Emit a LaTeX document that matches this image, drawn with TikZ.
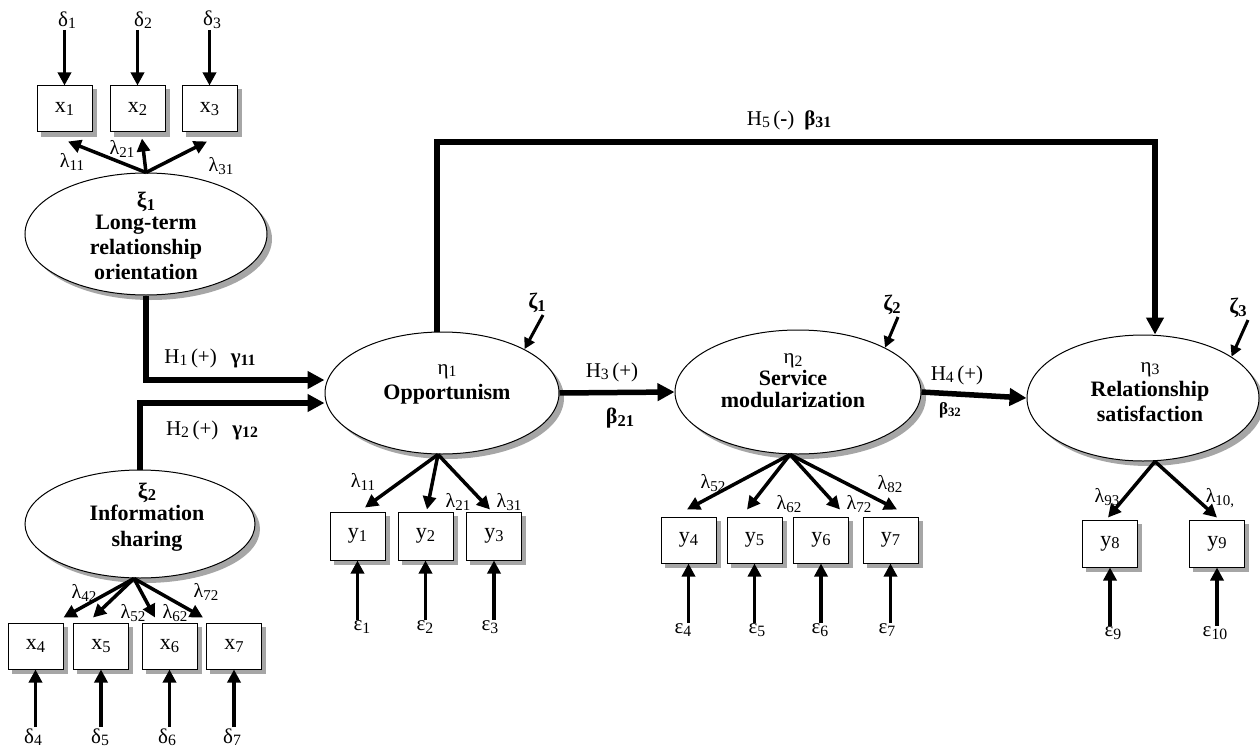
\documentclass[tikz,border=0pt]{standalone}
\usepackage{fontspec}
\usepackage{graphicx}
\setmainfont{Liberation Serif}
\usetikzlibrary{arrows.meta,shapes.geometric}
\pgfdeclarelayer{shadowlayer}
\pgfsetlayers{shadowlayer,main}
\newcommand{\lsub}[1]{\raisebox{-0.12em}{\scalebox{0.75}{#1}}}
\newcommand{\fsz}[1]{\fontsize{#1}{#1}\selectfont}
\begin{document}
\begin{tikzpicture}[x=1pt,y=-1pt,
 shadowc/.style={fill=black!35},
 obs/.style={draw,line width=1pt,fill=white,minimum width=55pt,minimum height=46pt,inner sep=0pt,font=\fsz{22}},
 lat/.style={ellipse,draw,line width=1pt,fill=white,inner sep=0pt},
 lattxt/.style={align=center,font=\fontsize{22}{26}\selectfont\bfseries,inner sep=0pt},
 errl/.style={font=\fsz{21},inner sep=1pt},
 lam/.style={font=\fsz{20},inner sep=0pt},
 hyp/.style={font=\fsz{21},inner sep=0pt},
 harr/.style={line width=5.5pt,-{Triangle[length=17pt,width=17pt]}},
 larr/.style={line width=3.5pt,-{Triangle[length=13pt,width=13pt]}},
 earr/.style={line width=3.5pt,-{Triangle[length=13pt,width=13pt]}},
 zarr/.style={line width=3pt,-{Triangle[length=11pt,width=11pt]}},
]
\useasboundingbox (0,0) rectangle (1260,749);

% ---------- latent variables
\node[lat,minimum width=242pt,minimum height=122pt] (xi1) at (146,234) {};
\node[lattxt] (xi1t) at (146,236) {ξ\lsub{1}\\[-4pt]Long-term\\[-1pt]relationship\\[-1pt]orientation};
\node[lat,minimum width=230pt,minimum height=108pt] (xi2) at (140,524) {};
\node[lattxt] (xi2t) at (147,517) {ξ\lsub{2}\\[-4pt]Information\\[0pt]sharing};
\node[lat,minimum width=234pt,minimum height=122pt] (eta1) at (442,393) {};
\node[lattxt] (eta1t) at (447,384) {{\mdseries\fsz{21}η\lsub{1}}\\[-1pt]Opportunism};
\node[lat,minimum width=246pt,minimum height=124pt] (eta2) at (798,392) {};
\node[lattxt] (eta2t) at (793,381) {{\mdseries\fsz{21}η\lsub{2}}\\[-4pt]Service\\[-4pt]modularization};
\node[lat,minimum width=232pt,minimum height=126pt] (eta3) at (1143,398) {};
\node[lattxt] (eta3t) at (1150,392) {{\mdseries\fsz{21}η\lsub{3}}\\[-2pt]Relationship\\[-1pt]satisfaction};

% ---------- observed variables
\node[obs] (x1) at (64.5,109) {x\lsub{1}};
\node[obs] (x2) at (137.5,109) {x\lsub{2}};
\node[obs] (x3) at (209.5,109) {x\lsub{3}};
\node[obs] (x4) at (35.5,646) {x\lsub{4}};
\node[obs] (x5) at (101,646) {x\lsub{5}};
\node[obs] (x6) at (169.5,646) {x\lsub{6}};
\node[obs] (x7) at (234,646) {x\lsub{7}};
\node[obs,minimum height=48pt] (y1) at (357.5,536) {y\lsub{1}};
\node[obs,minimum height=48pt] (y2) at (425.5,536) {y\lsub{2}};
\node[obs,minimum height=48pt] (y3) at (494,536) {y\lsub{3}};
\node[obs] (y4) at (688.5,540) {y\lsub{4}};
\node[obs] (y5) at (754.5,540) {y\lsub{5}};
\node[obs] (y6) at (821,540) {y\lsub{6}};
\node[obs] (y7) at (890.5,540) {y\lsub{7}};
\node[obs,minimum height=47pt] (y8) at (1110,543.5) {y\lsub{8}};
\node[obs,minimum height=47pt] (y9) at (1217,543.5) {y\lsub{9}};

% ---------- shadows
\begin{pgfonlayer}{shadowlayer}
\foreach \n in {x1,x2,x3,x4,x5,x6,x7,y1,y2,y3,y4,y5,y6,y7,y8,y9}
  \fill[shadowc] ([shift={(4pt,-4pt)}]\n.south west) rectangle ([shift={(4pt,-4pt)}]\n.north east);
\fill[shadowc] ([shift={(5pt,-5pt)}]xi1.center) ellipse [x radius=121, y radius=61];
\fill[shadowc] ([shift={(5pt,-5pt)}]xi2.center) ellipse [x radius=115, y radius=54];
\fill[shadowc] ([shift={(5pt,-5pt)}]eta1.center) ellipse [x radius=117, y radius=61];
\fill[shadowc] ([shift={(5pt,-5pt)}]eta2.center) ellipse [x radius=123, y radius=62];
\fill[shadowc] ([shift={(5pt,-5pt)}]eta3.center) ellipse [x radius=116, y radius=63];
\end{pgfonlayer}

% ---------- error terms
\node[errl] (d1) at (67,20) {δ\lsub{1}};
\node[errl] (d2) at (143,20) {δ\lsub{2}};
\node[errl] (d3) at (212,20) {δ\lsub{3}};
\node[errl] (d4) at (33,737) {δ\lsub{4}};
\node[errl] (d5) at (100,737) {δ\lsub{5}};
\node[errl] (d6) at (167,737) {δ\lsub{6}};
\node[errl] (d7) at (232,737) {δ\lsub{7}};
\node[errl] (e1) at (362,627) {ε\lsub{1}};
\node[errl] (e2) at (425,627) {ε\lsub{2}};
\node[errl] (e3) at (490,627) {ε\lsub{3}};
\node[errl] (e4) at (683,630) {ε\lsub{4}};
\node[errl] (e5) at (757,630) {ε\lsub{5}};
\node[errl] (e6) at (820,630) {ε\lsub{6}};
\node[errl] (e7) at (887,630) {ε\lsub{7}};
\node[errl] (e9) at (1113,633) {ε\lsub{9}};
\node[errl] (e10) at (1215,633) {ε\lsub{10}};

\foreach \d/\b in {d1/x1,d2/x2,d3/x3}
  \draw[earr] (\b.north |- \d.south) -- (\b.north);
\foreach \d/\b in {d4/x4,d5/x5,d6/x6,d7/x7,e1/y1,e2/y2,e3/y3,e4/y4,e5/y5,e6/y6,e7/y7,e9/y8,e10/y9}
  \draw[earr] (\b.south |- \d.north) -- (\b.south);

% ---------- disturbances
\node[hyp,font=\fsz{22}\bfseries] (z1) at (537,303) {ζ\lsub{1}};
\node[hyp,font=\fsz{22}\bfseries] (z2) at (892,305) {ζ\lsub{2}};
\node[hyp,font=\fsz{22}\bfseries] (z3) at (1238,308) {ζ\lsub{3}};
\draw[zarr] ([shift={(6pt,-2pt)}]z1.south) -- (eta1.28);
\draw[zarr] ([shift={(6pt,-2pt)}]z2.south) -- (eta2.27);
\draw[zarr] ([shift={(10pt,-2pt)}]z3.south) -- (eta3.25);

% ---------- loadings
\draw[larr] (xi1.north) -- ([shift={(3.5pt,-9pt)}]x1.south);
\draw[larr] (xi1.north) -- ([shift={(4.5pt,-6pt)}]x2.south);
\draw[larr] (xi1.north) -- ([shift={(-2.5pt,-9pt)}]x3.south);
\node[lam] (l11a) at (72,162) {λ\lsub{11}};
\node[lam] (l21a) at (122,149) {λ\lsub{21}};
\node[lam] (l31a) at (221,166) {λ\lsub{31}};

\draw[larr] ([xshift=-6pt]xi2.south) -- ([yshift=5pt]x4.north east);
\draw[larr] ([xshift=-6pt]xi2.south) -- ([shift={(-8pt,5pt)}]x5.north);
\draw[larr] ([xshift=-6pt]xi2.south) -- ([shift={(-14.5pt,5pt)}]x6.north);
\draw[larr] ([xshift=-6pt]xi2.south) -- ([shift={(-3pt,5pt)}]x7.north west);
\node[lam] (l42) at (84,593) {λ\lsub{42}};
\node[lam] (l52) at (133,613) {λ\lsub{52}};
\node[lam] (l62) at (175,613) {λ\lsub{62}};
\node[lam] (l72) at (206,592) {λ\lsub{72}};

\draw[larr] ([xshift=-4pt]eta1.south) -- ([shift={(7.5pt,4pt)}]y1.north);
\draw[larr] ([xshift=-4pt]eta1.south) -- ([shift={(1.5pt,2pt)}]y2.north);
\draw[larr] ([xshift=-4pt]eta1.south) -- ([shift={(-4pt,2pt)}]y3.north);
\node[lam] (l11b) at (363,482) {λ\lsub{11}};
\node[lam] (l21b) at (458,502) {λ\lsub{21}};
\node[lam] (l31b) at (509,502) {λ\lsub{31}};

\draw[larr] ([xshift=-8pt]eta2.south) -- ([shift={(-1.5pt,7pt)}]y4.north);
\draw[larr] ([xshift=-8pt]eta2.south) -- ([shift={(-7.5pt,7pt)}]y5.north);
\draw[larr] ([xshift=-8pt]eta2.south) -- ([shift={(19pt,7pt)}]y6.north);
\draw[larr] ([xshift=-8pt]eta2.south) -- ([shift={(6.5pt,7pt)}]y7.north);
\node[lam] (l52b) at (713,483) {λ\lsub{52}};
\node[lam] (l62b) at (789,504) {λ\lsub{62}};
\node[lam] (l72b) at (859,504) {λ\lsub{72}};
\node[lam] (l82b) at (890,484) {λ\lsub{82}};

\draw[larr] ([xshift=12pt]eta3.south) -- ([shift={(-2pt,2pt)}]y8.north);
\draw[larr] ([xshift=12pt]eta3.south) -- ([yshift=2pt]y9.north);
\node[lam] (l93) at (1107,497) {λ\lsub{93}};
\node[lam] (l10) at (1220,498) {λ\lsub{10,}};

% ---------- structural paths
\draw[harr] (xi1.south) |- ([yshift=13pt]eta1.west);
\draw[harr] (xi2.north) |- ([yshift=-10pt]eta1.west);
\draw[harr] (eta1.east) -- (eta2.west);
\draw[harr] (eta2.east) -- (eta3.west);
\coordinate (h5c) at (800,142);
\draw[harr] ([xshift=-5pt]eta1.north) |- (h5c) -| ([xshift=12pt]eta3.north);

\node[hyp] (h1) at (210,358) {H\lsub{1}\,(+)\hspace{14pt}\textbf{γ\lsub{11}}};
\node[hyp] (h2) at (212,430) {H\lsub{2}\,(+)\hspace{14pt}\textbf{γ\lsub{12}}};
\node[hyp] (h3) at (612,372) {H\lsub{3}\,(+)};
\node[hyp,font=\fsz{22}\bfseries] (b21) at (620,418) {β\lsub{21}};
\node[hyp] (h4) at (957,375) {H\lsub{4}\,(+)};
\node[hyp,font=\fsz{17}\bfseries] (b32) at (950,410) {β\lsub{32}};
\node[hyp] (h5) at (789,120) {H\lsub{5}\,(\textbf{-})\hspace{10pt}\textbf{β\lsub{31}}};
\end{tikzpicture}
\end{document}
